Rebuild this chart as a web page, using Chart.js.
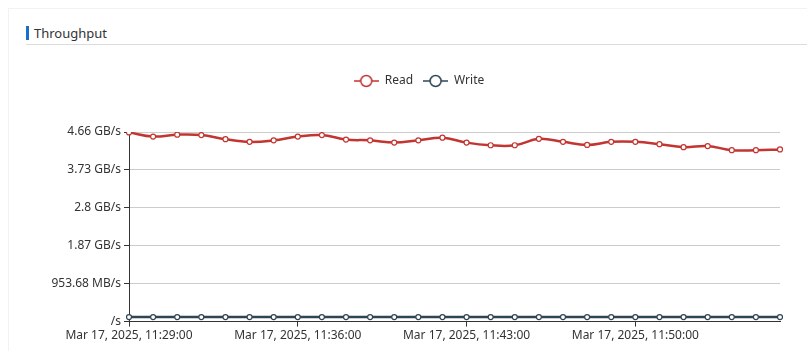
<!DOCTYPE html>
<html lang="en">
<head>
  <meta charset="UTF-8" />
  <title>Throughput</title>
  <script src="https://cdn.jsdelivr.net/npm/chart.js"></script>
  <style>
    html, body { margin: 0; padding: 0; background: #fff; width: 807px; height: 351px; overflow: hidden; font-family: "Noto Sans", sans-serif; }
    .panel { position: absolute; left: 8px; top: 8px; right: 0; bottom: 0; border-left: 1px solid #f2f2f2; border-top: 1px solid #f2f2f2; }
    .title { position: absolute; left: 26px; top: 26px; height: 14px; line-height: 14px; border-left: 3px solid #1a6fc9; padding-left: 5px; font-size: 13px; color: #333; }
    .rule { position: absolute; left: 26px; top: 44px; right: 0; height: 1px; background: #dcdcdc; }
    .wrap { position: absolute; left: 0; top: 50px; width: 807px; height: 301px; }
  </style>
</head>
<body>
  <div class="panel"></div>
  <div class="title">Throughput</div>
  <div class="rule"></div>
  <div class="wrap"><canvas id="tp"></canvas></div>

  <script>
    // one sample per minute, 11:29 .. 11:56
    const times = [
      '11:29:00','11:30:00','11:31:00','11:32:00','11:33:00','11:34:00','11:35:00',
      '11:36:00','11:37:00','11:38:00','11:39:00','11:40:00','11:41:00','11:42:00',
      '11:43:00','11:44:00','11:45:00','11:46:00','11:47:00','11:48:00','11:49:00',
      '11:50:00','11:51:00','11:52:00','11:53:00','11:54:00','11:55:00','11:56:00'
    ];
    const labels = times.map(t => 'Mar 17, 2025, ' + t);

    // bytes per second, in units of 1e9
    const readGB = [
      4.99, 4.88, 4.93, 4.92, 4.81, 4.74, 4.78, 4.88, 4.92, 4.80, 4.78, 4.72, 4.78, 4.85,
      4.72, 4.65, 4.65, 4.82, 4.74, 4.66, 4.74, 4.74, 4.68, 4.60, 4.63, 4.52, 4.52, 4.54
    ];
    const writeGB = [
      0.12, 0.12, 0.12, 0.12, 0.12, 0.12, 0.12, 0.12, 0.12, 0.12, 0.12, 0.12, 0.12, 0.12,
      0.12, 0.12, 0.12, 0.12, 0.12, 0.12, 0.12, 0.12, 0.12, 0.12, 0.12, 0.12, 0.12, 0.12
    ];
    const yTickLabels = ['/s', '953.68 MB/s', '1.87 GB/s', '2.8 GB/s', '3.73 GB/s', '4.66 GB/s'];

    const RED = '#c23531';
    const SLATE = '#2f4554';

    // legend icon: short line with a hollow circle
    function legendIcon(color) {
      const c = document.createElement('canvas');
      c.width = 25; c.height = 14;
      const g = c.getContext('2d');
      g.strokeStyle = color;
      g.lineWidth = 1.5;
      g.beginPath(); g.moveTo(0, 7); g.lineTo(25, 7); g.stroke();
      g.beginPath(); g.arc(12.5, 7, 5.5, 0, Math.PI * 2);
      g.fillStyle = '#fff'; g.fill(); g.stroke();
      return c;
    }
    const icons = [legendIcon(RED), legendIcon(SLATE)];

    // extra room under the legend, and nudge it right to sit over the panel centre
    const legendGap = {
      id: 'legendGap',
      beforeInit(chart) {
        const fit = chart.legend.fit;
        chart.legend.fit = function () { fit.bind(chart.legend)(); this.height += 35; };
      },
      afterUpdate(chart) {
        chart.legend.left += 29;
        chart.legend.right += 29;
      }
    };

    const font = { family: 'Noto Sans', size: 12 };

    new Chart(document.getElementById('tp'), {
      type: 'line',
      data: {
        labels: labels,
        datasets: [
          {
            label: 'Read',
            data: readGB.map(v => v * 1e9),
            borderColor: RED,
            backgroundColor: '#fff',
            borderWidth: 2.5,
            pointRadius: 2.5,
            pointBorderWidth: 1.2,
            pointBackgroundColor: '#fff',
            pointBorderColor: RED,
            tension: 0.4
          },
          {
            label: 'Write',
            data: writeGB.map(v => v * 1e9),
            borderColor: SLATE,
            backgroundColor: '#fff',
            borderWidth: 2.5,
            pointRadius: 2.5,
            pointBorderWidth: 1.2,
            pointBackgroundColor: '#fff',
            pointBorderColor: SLATE,
            tension: 0.4
          }
        ]
      },
      options: {
        responsive: true,
        maintainAspectRatio: false,
        animation: false,
        layout: { padding: { top: 15, right: 27, bottom: 6, left: 0 } },
        plugins: {
          tooltip: { enabled: false },
          legend: {
            labels: {
              usePointStyle: true,
              pointStyleWidth: 25,
              padding: 10,
              color: '#333',
              font: font,
              generateLabels(chart) {
                return Chart.defaults.plugins.legend.labels.generateLabels(chart)
                  .map((item, i) => ({ ...item, pointStyle: icons[i] }));
              }
            }
          }
        },
        scales: {
          x: {
            grid: {
              drawOnChartArea: false,
              tickLength: 5,
              tickColor: ctx => (ctx.index % 7 === 0 ? '#333' : 'transparent')
            },
            border: { color: '#333' },
            ticks: {
              autoSkip: false,
              maxRotation: 0,
              padding: 2,
              color: '#333',
              font: font,
              callback: (v, i) => (i % 7 === 0 ? labels[i] : '')
            }
          },
          y: {
            min: 0,
            max: 5e9,
            afterFit: s => { s.width = 129; },
            grid: { color: '#ccc', tickColor: '#333', tickLength: 5 },
            border: { color: '#333' },
            ticks: {
              stepSize: 1e9,
              padding: 3,
              color: '#333',
              font: font,
              callback: v => yTickLabels[Math.round(v / 1e9)]
            }
          }
        }
      },
      plugins: [legendGap]
    });
  </script>
</body>
</html>
